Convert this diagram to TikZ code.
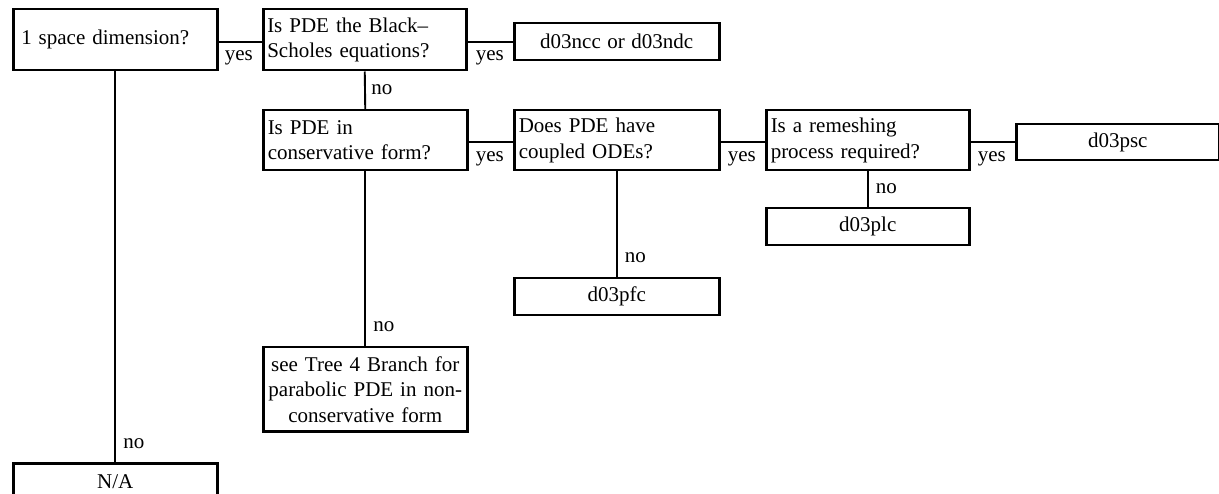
\documentclass[tikz,border=0pt]{standalone}
\usepackage{fontspec}
\setmainfont{Liberation Serif}[WordSpace=1.25]
\usetikzlibrary{calc}
\begin{document}
\begin{tikzpicture}[x=1pt,y=-1pt,
  every node/.style={font=\fontsize{21}{25.5}\selectfont},
  box/.style={draw, line width=2.5pt, inner sep=0pt, anchor=north west},
  conn/.style={line width=1.9pt},
  lbl/.style={inner sep=0pt}]
\clip (0,0) rectangle (1219,494);
% boxes
\node[box, minimum width=204, minimum height=61, text width=188, align=left] (b1) at (12,8) {1 space dimension?};
\node[box, minimum width=203, minimum height=61, text width=195, align=left] (b2) at (262,8) {Is PDE the Black–\\Scholes equations?};
\node[box, minimum width=205, minimum height=37, align=center] (b3) at (513,22) {d03ncc or d03ndc};
\node[box, minimum width=204, minimum height=60, text width=195, align=left] (b4) at (262,109) {Is PDE in\\conservative form?};
\node[box, minimum width=205, minimum height=60, text width=196, align=left] (b5) at (513,109) {Does PDE have\\coupled ODEs?};
\node[box, minimum width=203, minimum height=60, text width=194, align=left] (b6) at (765,109) {Is a remeshing\\process required?};
\node[box, minimum width=203, minimum height=36, align=center] (b7) at (1015,123) {d03psc};
\node[box, minimum width=203, minimum height=37, align=center] (b8) at (765,207) {d03plc};
\node[box, minimum width=205, minimum height=37, align=center] (b9) at (513,277) {d03pfc};
\node[box, minimum width=204, minimum height=84, text width=200, align=center] (b10) at (262,346) {see Tree 4 Branch for\\parabolic PDE in non-\\conservative form};
\node[box, minimum width=204, minimum height=37, align=center] (b11) at (12,462) {N/A};
% yes connectors
\draw[conn] (b1.east |- b3.west) -- (b2.west |- b3.west);
\draw[conn] (b2.east |- b3.west) -- (b3.west);
\draw[conn] (b4.east |- b7.west) -- (b5.west |- b7.west);
\draw[conn] (b5.east |- b7.west) -- (b6.west |- b7.west);
\draw[conn] (b6.east |- b7.west) -- (b7.west);
% no connectors
\draw[conn] (b1.south) -- (b11.north);
\draw[conn] (b2.south) -- (b4.north);
\draw[conn] (b4.south) -- (b10.north);
\draw[conn] (b5.south) -- (b9.north);
\draw[conn] (b6.south) -- (b8.north);
% yes labels
\node[lbl, anchor=base east] (y1) at ($(b2.west |- b3.west)+(-9,19)$) {yes};
\node[lbl, anchor=base east] (y2) at ($(b3.west)+(-9,19)$) {yes};
\node[lbl, anchor=base east] (y3) at ($(b5.west |- b7.west)+(-9,19)$) {yes};
\node[lbl, anchor=base east] (y4) at ($(b6.west |- b7.west)+(-9,19)$) {yes};
\node[lbl, anchor=base east] (y5) at ($(b7.west)+(-9,19)$) {yes};
% no labels
\node[lbl, anchor=base west] (n1) at ($(b11.north)+(8,-13)$) {no};
\node[lbl, anchor=base west] (n2) at ($(b4.north)+(6,-14)$) {no};
\node[lbl, anchor=base west] (n3) at ($(b10.north)+(8,-14)$) {no};
\node[lbl, anchor=base west] (n4) at ($(b9.north)+(8,-14)$) {no};
\node[lbl, anchor=base west] (n5) at ($(b8.north)+(8,-13)$) {no};
\end{tikzpicture}
\end{document}
